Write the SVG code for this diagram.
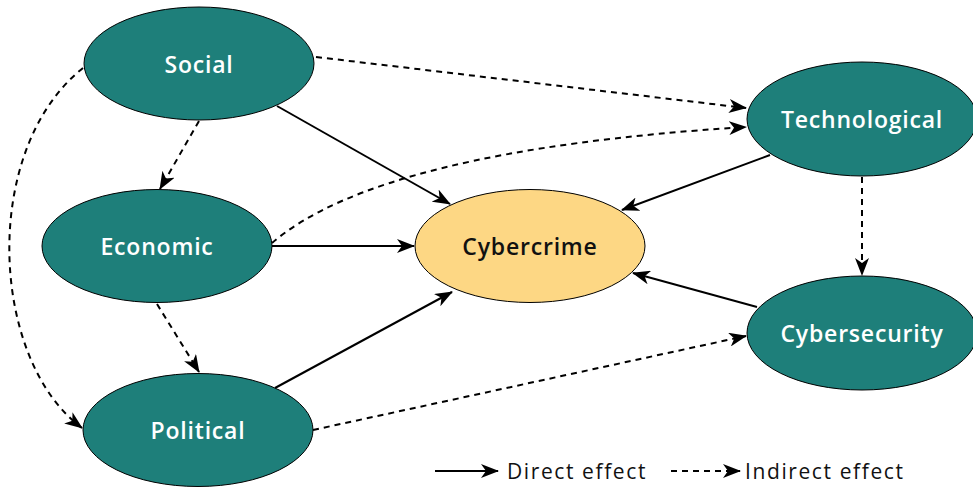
<svg xmlns="http://www.w3.org/2000/svg" width="973" height="487" viewBox="0 0 973 487">
<style>
.node{fill:#1e7f7a;stroke:#000;stroke-width:1}
.core{fill:#fdd784;stroke:#000;stroke-width:1}
.lbl{font-family:"Open Sans","Liberation Sans",sans-serif;font-size:23px;font-weight:600;letter-spacing:0.8px;fill:#fff;text-anchor:middle;dominant-baseline:central}
.lblc{fill:#111}
.c{fill:none;stroke:#000;stroke-width:2;marker-end:url(#ah)}
.d{stroke-dasharray:6 5}
.leg{font-family:"Open Sans","Liberation Sans",sans-serif;font-size:21px;letter-spacing:1.6px;fill:#111}
</style>
<defs>
<marker id="ah" markerUnits="userSpaceOnUse" markerWidth="18" markerHeight="14" viewBox="0 0 18 14" refX="17" refY="7" orient="auto">
<path d="M0,0 L18,7 L0,14 L5,7 z" fill="#000"/>
</marker>
</defs>
<rect width="973" height="487" fill="#fff"/>
<g id="connectors">
<line class="c" x1="277" y1="106" x2="450" y2="204"/>
<line class="c" x1="272" y1="246" x2="414" y2="246"/>
<line class="c" x1="275" y1="388" x2="452" y2="292"/>
<line class="c" x1="770" y1="155" x2="622" y2="210"/>
<line class="c" x1="757" y1="307" x2="633" y2="273"/>
<line class="c d" x1="316" y1="57" x2="746" y2="108"/>
<path class="c d" d="M272,243 Q380,150 746,127"/>
<line class="c d" x1="313" y1="430" x2="746" y2="336"/>
<line class="c d" x1="199" y1="121" x2="160" y2="189"/>
<line class="c d" x1="157" y1="304" x2="199" y2="372"/>
<line class="c d" x1="862" y1="177" x2="862" y2="275"/>
<path class="c d" d="M83,68 C-20,150 -10,360 82,428"/>
</g>
<g id="social"><ellipse class="node" cx="199" cy="63.5" rx="115" ry="56.5"/><text class="lbl" x="199" y="64">Social</text></g>
<g id="economic"><ellipse class="node" cx="157" cy="246" rx="115" ry="56.5"/><text class="lbl" x="157" y="246">Economic</text></g>
<g id="political"><ellipse class="node" cx="198" cy="430" rx="115" ry="56.5"/><text class="lbl" x="198" y="430">Political</text></g>
<g id="cybercrime"><ellipse class="core" cx="530" cy="246" rx="115" ry="56.5"/><text class="lbl lblc" x="530" y="246">Cybercrime</text></g>
<g id="technological"><ellipse class="node" cx="862" cy="119" rx="115" ry="57"/><text class="lbl" x="862" y="119">Technological</text></g>
<g id="cybersecurity"><ellipse class="node" cx="862" cy="333" rx="115" ry="57"/><text class="lbl" x="862" y="333">Cybersecurity</text></g>
<g id="legend">
<line class="c" x1="435" y1="471" x2="498" y2="471"/>
<text class="leg" x="507" y="479">Direct effect</text>
<line class="c d" x1="671" y1="471" x2="740" y2="471"/>
<text class="leg" x="745" y="479">Indirect effect</text>
</g>
</svg>
